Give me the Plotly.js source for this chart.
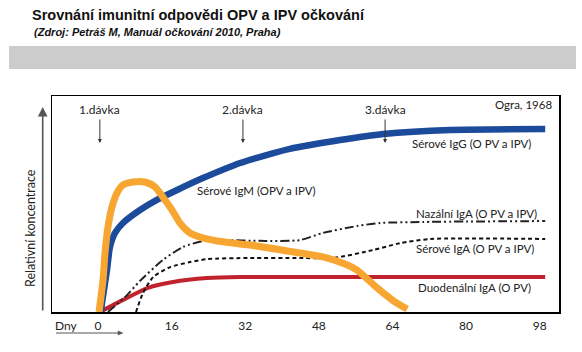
<!DOCTYPE html>
<html>
<head>
<meta charset="utf-8">
<script src="https://cdn.plot.ly/plotly-3.0.1.min.js"></script>
<style>html,body{margin:0;padding:0;background:#fff}#chart{width:582px;height:352px}</style>
</head>
<body>
<div id="chart"></div>
<script>
// Days after first dose (x) and relative concentration (y, 0-100)
var igG_days = [0.65, 0.87, 1.96, 2.6, 3.7, 5.43, 9.13, 12.8, 17.2, 22.8, 30.9, 41.7, 52.6, 62, 76.5, 97.2];
var igG_vals = [0, 4.2, 19.4, 30.1, 36.6, 41.2, 47.2, 51.9, 56.5, 62, 69, 75.5, 79.6, 82.4, 84.3, 84.7];

var igM_days = [0.22, 1.09, 1.52, 2.17, 3.04, 4.13, 5.43, 7.61, 10.2, 12.4, 14.1, 16.1, 17.8, 20, 22.8, 25.9, 33, 43.9, 48.9, 53.7, 56.3, 60.7, 64.6, 67.2];
var igM_vals = [0, 14.8, 27.3, 39.4, 48.6, 55.1, 58.8, 60.2, 60.2, 57.9, 53.2, 47.2, 41.2, 36.6, 34.3, 32.9, 31, 27.3, 25.5, 22.2, 19.4, 11.1, 4.6, 1.4];

var nasalIgA_days = [2.17, 5.87, 9.13, 14.1, 18.5, 22.8, 25.9, 36.7, 43.9, 48.9, 56.3, 61.3, 70.7, 97.2];
var nasalIgA_vals = [0, 6.9, 14.4, 24.1, 30.1, 32.9, 33.3, 32.9, 33.3, 36.6, 39.8, 41.2, 41.7, 42.1];

var serumIgA_days = [8.26, 9.78, 12, 15.7, 20, 23.7, 33, 43.9, 51.1, 59.8, 65.7, 72.2, 97.2];
var serumIgA_vals = [0, 8.8, 16.2, 20.8, 23.1, 24.5, 25, 25, 25, 28.7, 31.9, 33.8, 33.8];

var duodIgA_days = [0.43, 5.43, 10.7, 16.3, 23.7, 30.9, 43.9, 97.2];
var duodIgA_vals = [0, 5.6, 11.1, 13.9, 15.7, 16.2, 16.2, 16.2];

var tickDays = [0, 16, 32, 48, 64, 80, 96];
var tickLabels = ["0", "16", "32", "48", "64", "80", "98"];

var doseDays = [0.4, 31.5, 62.4];
var doseLabels = ["1.dávka", "2.dávka", "3.dávka"];

var titleText = "Srovnání imunitní odpovědi OPV a IPV očkování";
var subtitleText = "(Zdroj: Petráš M, Manuál očkování 2010, Praha)";
var yLabel = "Relativní koncentrace";
var xLabel = "Dny";
var sourceNote = "Ogra, 1968";
var curveLabels = ["Sérové IgG (O PV a IPV)", "Sérové IgM (OPV a IPV)", "Nazální IgA (O PV a IPV)", "Sérové IgA (O PV a IPV)", "Duodenální IgA (O PV)"];

// layout geometry (pixels -> paper)
var L = 52, R = 559, T = 96, B = 312;
function px(x){ return (x - L) / (R - L); }
function py(y){ return (B - y) / (B - T); }

var FONT = "Lato, 'Open Sans', sans-serif";
var SM = 0.65;

var traces = [
  {x: duodIgA_days, y: duodIgA_vals, mode: "lines", line: {color: "#c1232e", width: 4, shape: "spline", smoothing: SM}},
  {x: serumIgA_days, y: serumIgA_vals, mode: "lines", line: {color: "#111", width: 2, dash: "4px,3px", shape: "spline", smoothing: SM}},
  {x: nasalIgA_days, y: nasalIgA_vals, mode: "lines", line: {color: "#222", width: 2, dash: "9px,3px,2px,3px,2px,3px", shape: "spline", smoothing: SM}},
  {x: igG_days, y: igG_vals, mode: "lines", line: {color: "#1d4b9b", width: 6.5, shape: "spline", smoothing: SM}},
  {x: igM_days, y: igM_vals, mode: "lines", line: {color: "#f8a632", width: 7, shape: "spline", smoothing: SM}}
];

var ann = [];
// dose labels and arrows
for (var i = 0; i < doseDays.length; i++) {
  ann.push({x: doseDays[i], xref: "x", y: py(110), yref: "paper", text: doseLabels[i], showarrow: false,
    font: {family: FONT, size: 12, color: "#222"}, xanchor: "center", yanchor: "middle"});
  ann.push({x: doseDays[i], xref: "x", y: py(143), yref: "paper", text: "", showarrow: true,
    ax: 0, ay: -25, arrowhead: 2, arrowsize: 0.8, arrowwidth: 1, arrowcolor: "#333"});
}
// curve labels
var labelPos = [[410, 143], [195, 190], [414, 213], [414, 249], [416, 287]];
for (var j = 0; j < curveLabels.length; j++) {
  ann.push({x: px(labelPos[j][0]), xref: "paper", y: py(labelPos[j][1]), yref: "paper", text: curveLabels[j],
    showarrow: false, xanchor: "left", yanchor: "middle", font: {family: FONT, size: 11.5, color: "#222"}});
}
ann.push({x: px(554), xref: "paper", y: py(104), yref: "paper", text: sourceNote, showarrow: false,
  xanchor: "right", yanchor: "middle", font: {family: FONT, size: 11.5, color: "#222"}});
// subtitle
ann.push({x: px(32), xref: "paper", y: py(32), yref: "paper", text: "<b><i>" + subtitleText + "</i></b>", showarrow: false,
  xanchor: "left", yanchor: "middle", font: {family: "'Liberation Sans', Arial, sans-serif", size: 11, color: "#111"}});
// y axis label and arrow
ann.push({x: px(30), xref: "paper", y: py(228), yref: "paper", text: yLabel, textangle: -90, showarrow: false,
  xanchor: "center", yanchor: "middle", font: {family: FONT, size: 12.5, color: "#222"}});
ann.push({x: px(42.7), xref: "paper", y: py(107), yref: "paper", text: "", showarrow: true, ax: 0, ay: 205,
  arrowhead: 2, arrowsize: 1.2, arrowwidth: 1.6, arrowcolor: "#555"});
// x label
ann.push({x: px(66), xref: "paper", y: py(325), yref: "paper", text: xLabel, showarrow: false,
  xanchor: "center", yanchor: "middle", font: {family: FONT, size: 12, color: "#222"}});

var layout = {
  width: 582, height: 352,
  margin: {l: L, r: 582 - R, t: T, b: 352 - B, pad: 0},
  paper_bgcolor: "#fff", plot_bgcolor: "#fff",
  showlegend: false,
  title: {text: "<b>" + titleText + "</b>", xref: "container", yref: "container", x: 32 / 582, xanchor: "left",
    y: 1 - 15 / 352, yanchor: "middle", font: {family: "'Liberation Sans', Arial, sans-serif", size: 14.5, color: "#111"}},
  xaxis: {range: [-10, 100.2], tickvals: tickDays, ticktext: tickLabels, showgrid: false, zeroline: false,
    showline: true, mirror: true, linecolor: "#000", linewidth: 1.5, ticks: "", ticklabelstandoff: 2,
    tickfont: {family: FONT, size: 12, color: "#222"}, fixedrange: true},
  yaxis: {range: [0, 100], showgrid: false, zeroline: false, showticklabels: false, showline: true, mirror: true,
    linecolor: "#000", linewidth: 1.5, ticks: "", fixedrange: true},
  shapes: [
    {type: "rect", xref: "paper", yref: "paper", x0: px(9), x1: px(576), y0: py(69), y1: py(46),
      fillcolor: "#cccccc", line: {width: 0}, layer: "below"},
    {type: "line", xref: "paper", yref: "paper", x0: px(56), x1: px(120), y0: py(333), y1: py(333),
      line: {color: "#555", width: 1}},
    {type: "path", xref: "paper", yref: "paper",
      path: "M " + px(123) + " " + py(333) + " L " + px(118) + " " + py(331) + " L " + px(118) + " " + py(335) + " Z",
      fillcolor: "#555", line: {color: "#555", width: 0.5}}
  ],
  annotations: ann
};

Plotly.newPlot("chart", traces, layout, {displayModeBar: false, staticPlot: true});
</script>
</body>
</html>
